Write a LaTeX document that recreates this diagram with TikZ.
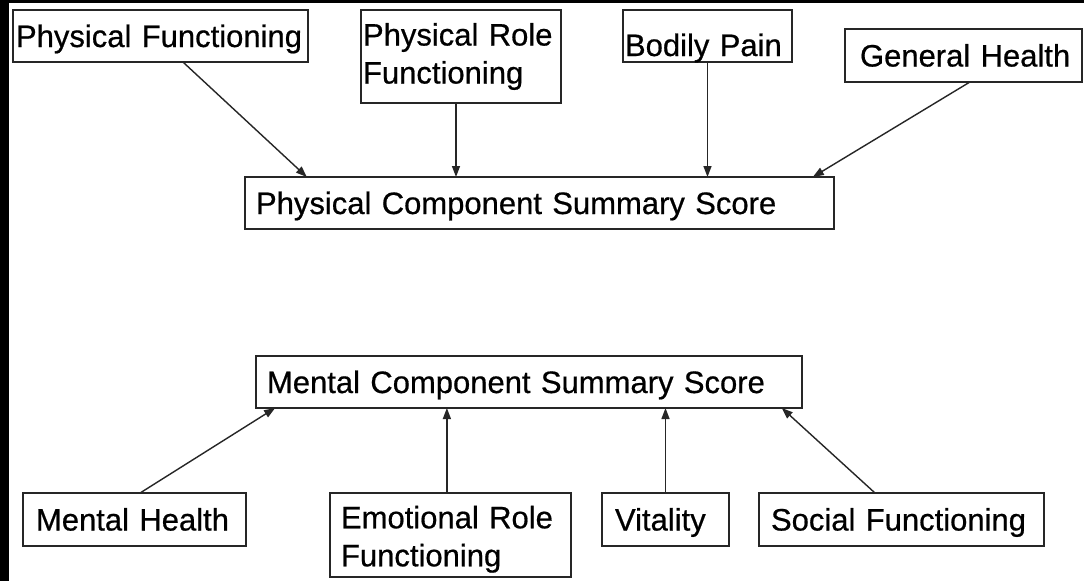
\documentclass[tikz,border=0pt]{standalone}
\usepackage{fontspec}
\setmainfont{Liberation Sans}
\newfontfamily\labelfont[FakeBold=0.6]{Liberation Sans}
\usetikzlibrary{arrows.meta,calc}

\tikzset{
  tag/.style={draw=black!85, line width=1.8pt, fill=white, anchor=north west,
    outer sep=0pt, inner ysep=2pt, align=left,
    font=\labelfont\fontsize{31}{38}\selectfont},
  oneline/.style={tag, text height=22pt, text depth=0pt},
  arr/.style={draw=black!85, line width=1.4pt, -{Triangle[length=11pt,width=8pt]}}
}

\begin{document}
\begin{tikzpicture}[x=1pt, y=-1pt]
  % frame and page
  \useasboundingbox (0,0) rectangle (1084,581);
  \fill[black] (0,0) rectangle (1084,581);
  \fill[white] (9,3) rectangle (1084,581);

  % physical scales
  \node[oneline, inner xsep=3pt, text width=289pt, minimum height=52pt] (pf) at (13,10) {Physical~Functioning};
  \node[tag, inner xsep=2pt, text width=196pt, minimum height=93pt] (prf) at (361,10) {Physical Role\\Functioning};
  \node[oneline, inner xsep=2pt, text width=165pt, minimum height=52pt, text height=40pt] (bp) at (623,10) {Bodily~Pain};
  \node[oneline, inner xsep=15pt, text width=207pt, minimum height=53pt] (gh) at (845,29) {General~Health};

  % summary scores
  \node[oneline, inner xsep=11pt, text width=567pt, minimum height=52pt] (pcs) at (245,177) {Physical~Component~Summary~Score};
  \node[oneline, inner xsep=11pt, text width=524pt, minimum height=52pt] (mcs) at (256,356) {Mental~Component~Summary~Score};

  % mental scales
  \node[oneline, inner xsep=13pt, text width=197pt, minimum height=53pt] (mh) at (23,493) {Mental~Health};
  \node[tag, inner xsep=11pt, text width=219pt, minimum height=84pt] (erf) at (330,493) {\rule{0pt}{31pt}Emotional Role\\Functioning};
  \node[oneline, inner xsep=13pt, text width=101pt, minimum height=53pt] (vit) at (602,493) {Vitality};
  \node[oneline, inner xsep=12pt, text width=261pt, minimum height=53pt] (sf) at (759,493) {Social~Functioning};

  % connector end points
  \coordinate (prfout) at ($(prf.south west)!0.475!(prf.south east)$);
  \coordinate (erfout) at ($(erf.north west)!0.485!(erf.north east)$);

  % arrows into the physical score
  \draw[arr] ($(pf.south west)!0.576!(pf.south east)$) -- ($(pcs.north west)!0.105!(pcs.north east)$);
  \draw[arr] (prfout) -- (prfout |- pcs.north);
  \draw[arr] (bp.south) -- (bp.south |- pcs.north);
  \draw[arr] ($(gh.south west)!0.527!(gh.south east)$) -- ($(pcs.north west)!0.964!(pcs.north east)$);

  % arrows into the mental score
  \draw[arr] ($(mh.north west)!0.525!(mh.north east)$) -- ($(mcs.south west)!0.035!(mcs.south east)$);
  \draw[arr] (erfout) -- (erfout |- mcs.south);
  \draw[arr] (vit.north) -- (vit.north |- mcs.south);
  \draw[arr] ($(sf.north west)!0.407!(sf.north east)$) -- ($(mcs.south west)!0.963!(mcs.south east)$);
\end{tikzpicture}
\end{document}
